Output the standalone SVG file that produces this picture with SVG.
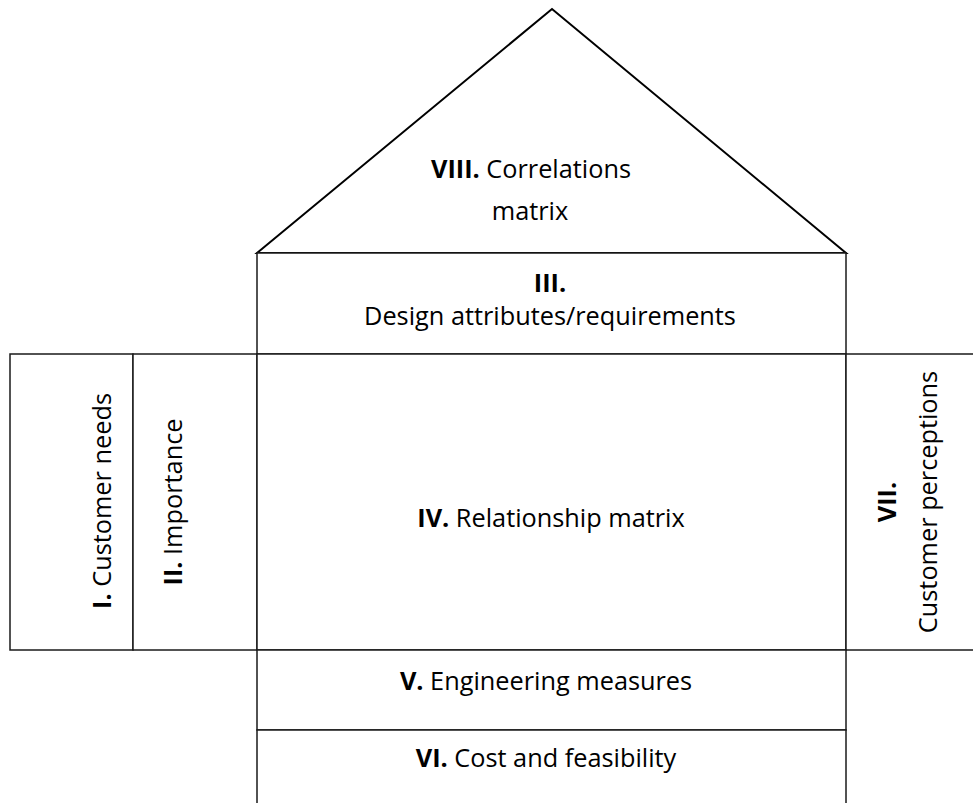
<svg xmlns="http://www.w3.org/2000/svg" width="973" height="803" viewBox="0 0 973 803">
  <style>
    .box { fill: #ffffff; stroke: #1a1a1a; stroke-width: 1.5; }
    .roof { fill: #ffffff; stroke: #000000; stroke-width: 2; stroke-linejoin: miter; }
    .lbl { font-family: "Open Sans", "Liberation Sans", sans-serif; font-size: 25.3px; fill: #000000; text-anchor: middle; }
    .b { font-weight: bold; }
  </style>
  <rect x="0" y="0" width="973" height="803" fill="#ffffff"/>
  <g id="node-VIII">
    <polygon class="roof" points="257,253 552,9 846,253"/>
    <text class="lbl" x="531" y="178"><tspan class="b">VIII.</tspan> Correlations</text>
    <text class="lbl" x="530" y="220">matrix</text>
  </g>
  <g id="node-III">
    <rect class="box" x="257" y="253" width="589" height="101"/>
    <text class="lbl" x="550" y="292"><tspan class="b">III.</tspan></text>
    <text class="lbl" x="550" y="325">Design attributes/requirements</text>
  </g>
  <g id="node-I">
    <rect class="box" x="10" y="354" width="123" height="296"/>
    <text class="lbl" transform="translate(111,501) rotate(-90)"><tspan class="b">I.</tspan> Customer needs</text>
  </g>
  <g id="node-II">
    <rect class="box" x="133" y="354" width="124" height="296"/>
    <text class="lbl" transform="translate(182,502) rotate(-90)"><tspan class="b">II.</tspan> Importance</text>
  </g>
  <g id="node-IV">
    <rect class="box" x="257" y="354" width="589" height="296"/>
    <text class="lbl" x="551" y="527"><tspan class="b">IV.</tspan> Relationship matrix</text>
  </g>
  <g id="node-VII">
    <rect class="box" x="846" y="354" width="140" height="296"/>
    <text class="lbl" transform="translate(896,502) rotate(-90)"><tspan class="b">VII.</tspan></text>
    <text class="lbl" transform="translate(937,502) rotate(-90)">Customer perceptions</text>
  </g>
  <g id="node-V">
    <rect class="box" x="257" y="650" width="589" height="80"/>
    <text class="lbl" x="546" y="690"><tspan class="b">V.</tspan> Engineering measures</text>
  </g>
  <g id="node-VI">
    <rect class="box" x="257" y="730" width="589" height="90"/>
    <text class="lbl" x="546" y="767"><tspan class="b">VI.</tspan> Cost and feasibility</text>
  </g>
  <g id="connectors"></g>
</svg>
